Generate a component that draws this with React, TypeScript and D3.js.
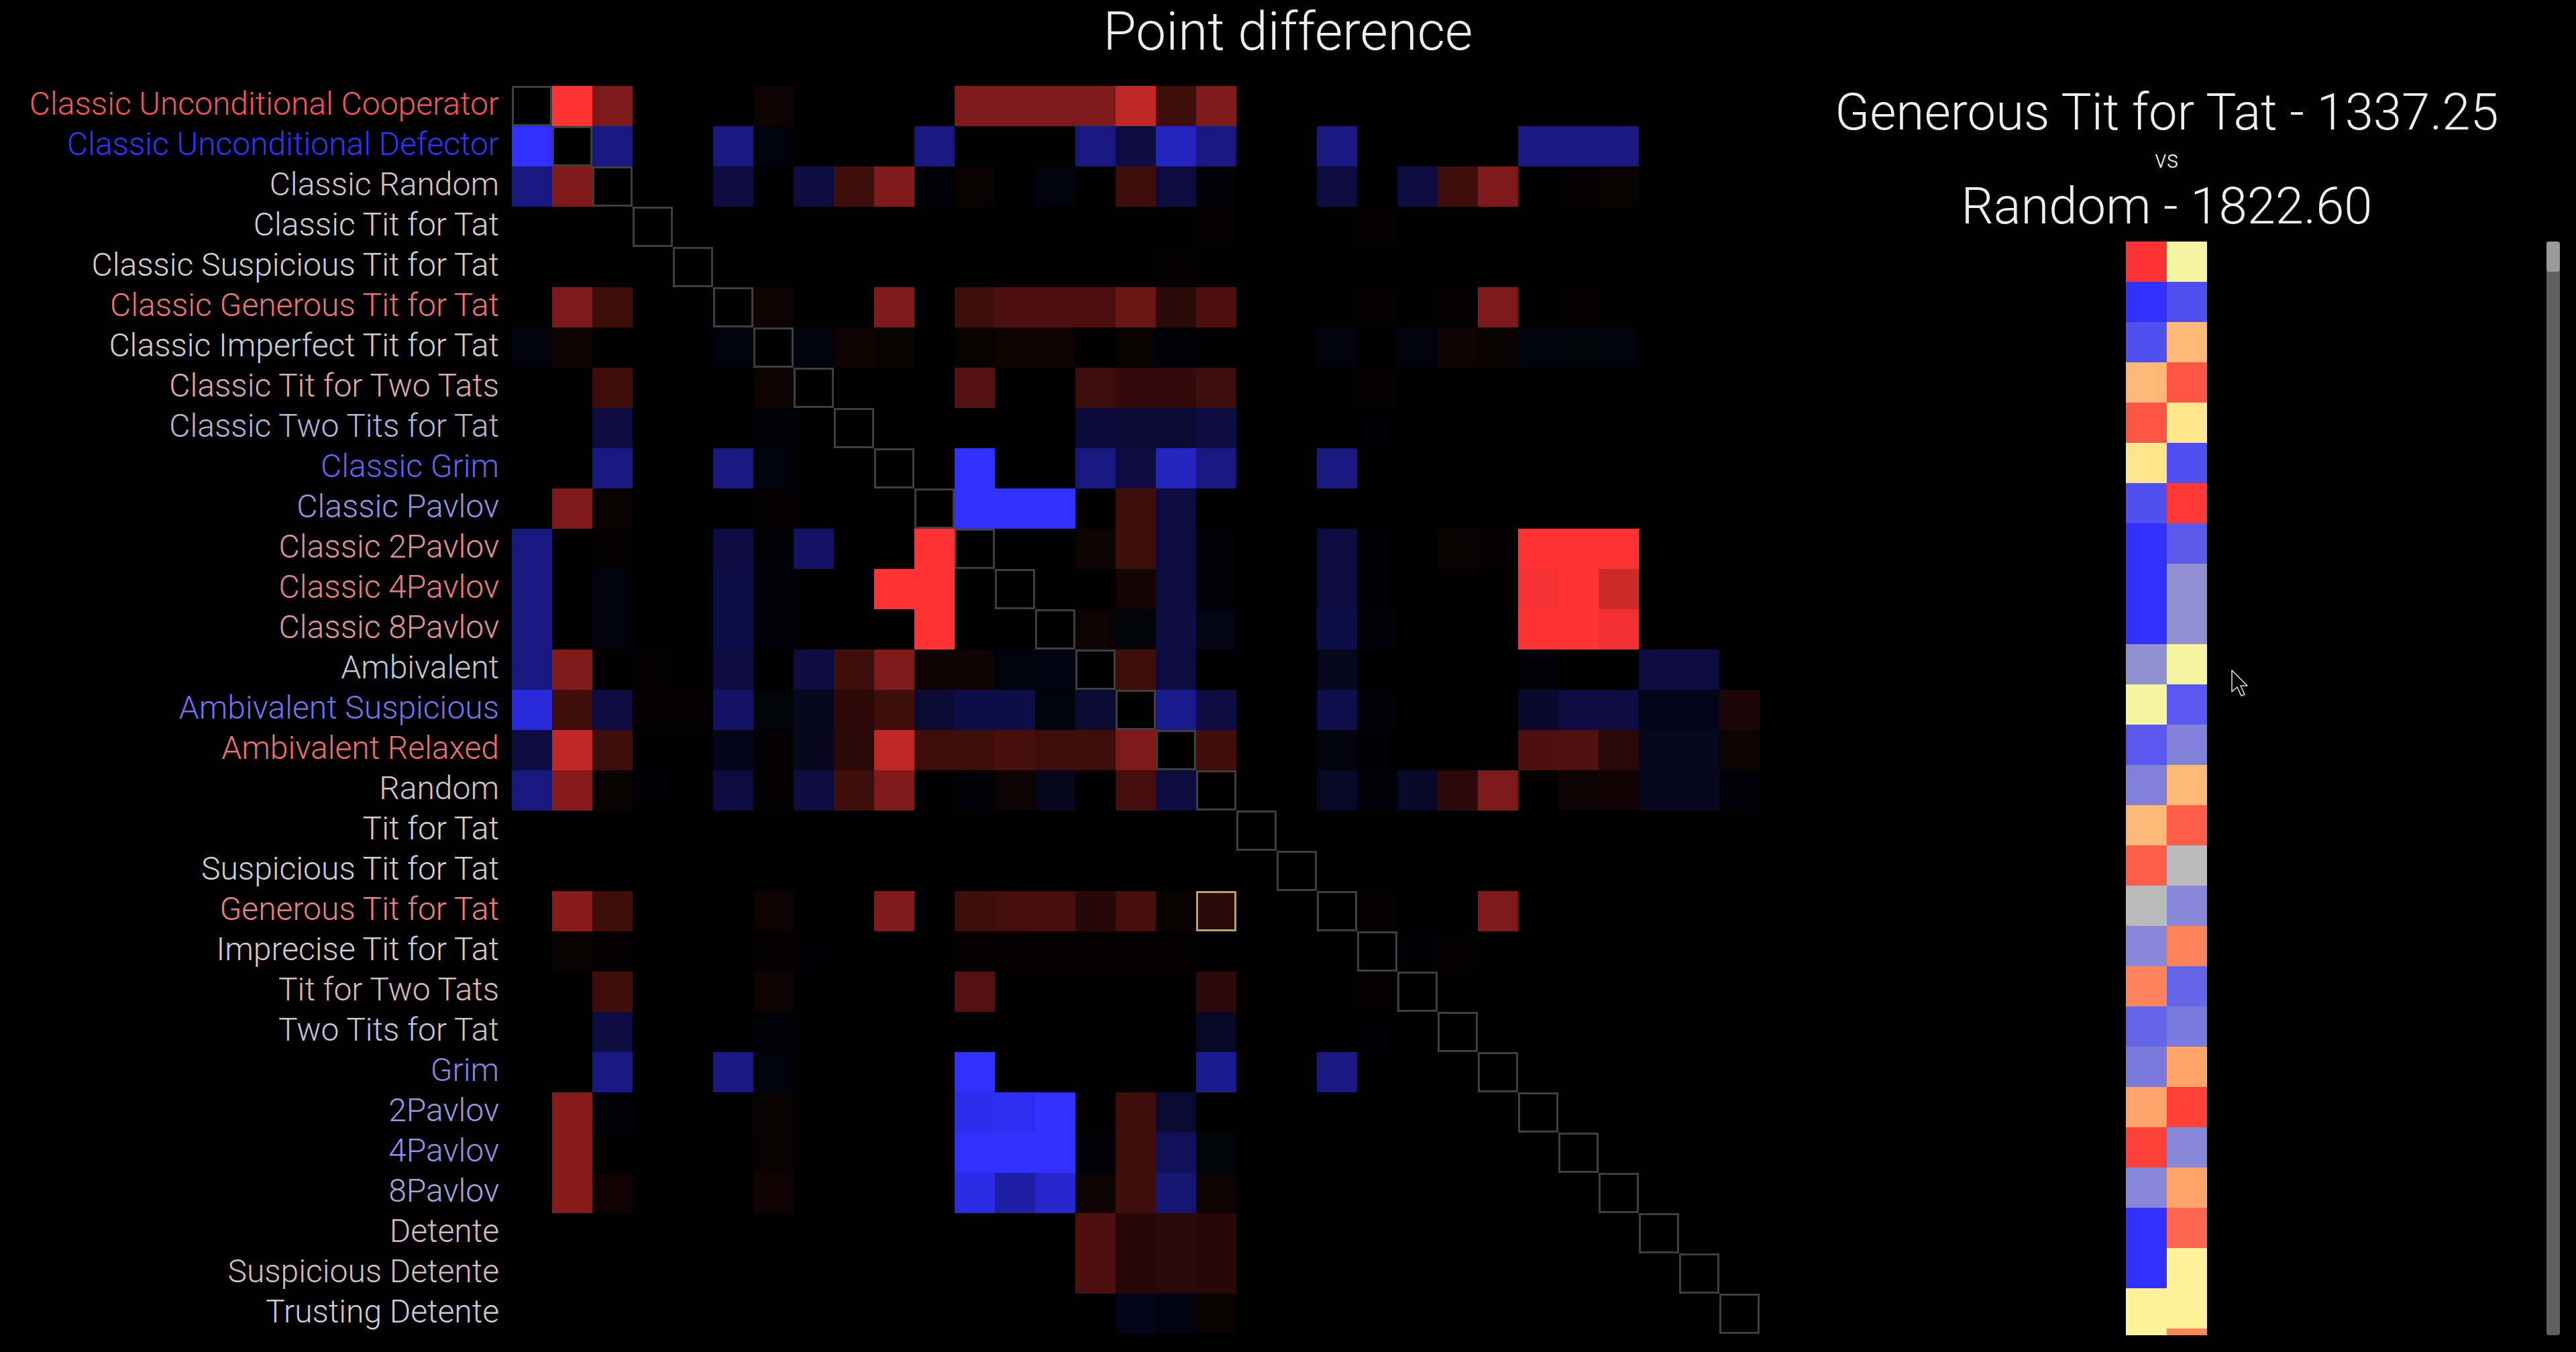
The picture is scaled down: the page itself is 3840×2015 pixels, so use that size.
import { useEffect, useRef } from 'react'
import * as d3 from 'd3'

const W = 3840
const H = 2015

const strategies = [
  'Classic Unconditional Cooperator',
  'Classic Unconditional Defector',
  'Classic Random',
  'Classic Tit for Tat',
  'Classic Suspicious Tit for Tat',
  'Classic Generous Tit for Tat',
  'Classic Imperfect Tit for Tat',
  'Classic Tit for Two Tats',
  'Classic Two Tits for Tat',
  'Classic Grim',
  'Classic Pavlov',
  'Classic 2Pavlov',
  'Classic 4Pavlov',
  'Classic 8Pavlov',
  'Ambivalent',
  'Ambivalent Suspicious',
  'Ambivalent Relaxed',
  'Random',
  'Tit for Tat',
  'Suspicious Tit for Tat',
  'Generous Tit for Tat',
  'Imprecise Tit for Tat',
  'Tit for Two Tats',
  'Two Tits for Tat',
  'Grim',
  '2Pavlov',
  '4Pavlov',
  '8Pavlov',
  'Detente',
  'Suspicious Detente',
  'Trusting Detente',
]

// point difference of row vs column, as a fraction of the largest difference
const pointDiff: number[][] = [
  [0, 1, .5, 0, 0, 0, .05, 0, 0, 0, 0, .5, .5, .5, .5, .75, .25, .5, 0, 0, 0, 0, 0, 0, 0, 0, 0, 0, 0, 0, 0],
  [-1, 0, -.5, 0, 0, -.5, -.05, 0, 0, 0, -.5, 0, 0, 0, -.5, -.25, -.75, -.5, 0, 0, -.5, 0, 0, 0, 0, -.5, -.5, -.5, 0, 0, 0],
  [-.5, .5, 0, 0, 0, -.25, 0, -.25, .25, .5, -.03, .03, 0, -.05, 0, .25, -.25, -.03, 0, 0, -.25, 0, -.25, .25, .5, 0, .01, .03, 0, 0, 0],
  [0, 0, 0, 0, 0, 0, 0, 0, 0, 0, 0, 0, 0, 0, 0, 0, 0, .01, 0, 0, 0, .01, 0, 0, 0, 0, 0, 0, 0, 0, 0],
  [0, 0, 0, 0, 0, 0, 0, 0, 0, 0, 0, 0, 0, 0, 0, 0, .01, 0, 0, 0, 0, 0, 0, 0, 0, 0, 0, 0, 0, 0, 0],
  [0, .5, .25, 0, 0, 0, .05, 0, 0, .5, 0, .25, .3, .3, .3, .42, .17, .3, 0, 0, 0, .01, 0, .01, .5, 0, .01, 0, 0, 0, 0],
  [-.05, .05, 0, 0, 0, -.05, 0, -.05, .05, .03, 0, .04, .05, .05, 0, .03, -.03, 0, 0, 0, -.05, 0, -.05, .05, .03, -.05, -.04, -.05, 0, 0, 0],
  [0, 0, .25, 0, 0, 0, .05, 0, 0, 0, 0, .33, 0, 0, .24, .2, .2, .24, 0, 0, 0, .01, 0, 0, 0, 0, 0, 0, 0, 0, 0],
  [0, 0, -.25, 0, 0, 0, -.03, 0, 0, 0, 0, 0, 0, 0, -.23, -.2, -.2, -.25, 0, 0, 0, -.01, 0, 0, 0, 0, 0, 0, 0, 0, 0],
  [0, 0, -.5, 0, 0, -.5, -.05, 0, 0, 0, 0, -1, 0, 0, -.5, -.25, -.75, -.5, 0, 0, -.5, 0, 0, 0, 0, 0, 0, 0, 0, 0, 0],
  [0, .5, .04, 0, 0, 0, .01, 0, 0, 0, 0, -1, -1, -1, 0, .25, -.25, 0, 0, 0, 0, 0, 0, 0, 0, 0, 0, 0, 0, 0, 0],
  [-.5, 0, .01, 0, 0, -.25, -.03, -.4, 0, 0, 1, 0, 0, 0, .05, .25, -.25, -.03, 0, 0, -.25, -.02, 0, .03, .01, 1, 1, 1, 0, 0, 0],
  [-.5, 0, -.05, 0, 0, -.28, -.03, 0, 0, 1, 1, 0, 0, 0, 0, .08, -.25, -.03, 0, 0, -.25, -.02, 0, 0, 0, .96, 1, .8, 0, 0, 0],
  [-.5, 0, -.05, 0, 0, -.28, -.03, 0, 0, 0, 1, 0, 0, 0, .05, -.04, -.25, -.08, 0, 0, -.28, -.03, 0, 0, 0, 1, 1, .95, 0, 0, 0],
  [-.5, .5, 0, .01, 0, -.25, 0, -.25, .25, .5, .05, .05, -.05, -.07, 0, .25, -.25, 0, 0, 0, -.12, 0, 0, 0, 0, -.03, 0, 0, -.25, -.25, 0],
  [-.85, .25, -.25, .01, .01, -.4, -.04, -.12, .18, .25, -.2, -.28, -.28, -.05, -.2, 0, -.55, -.25, 0, 0, -.3, -.03, 0, 0, 0, -.18, -.25, -.25, -.1, -.1, .12],
  [-.25, .75, .25, 0, 0, -.1, .01, -.12, .16, .75, .25, .25, .28, .25, .25, .5, 0, .26, 0, 0, -.05, -.02, 0, 0, 0, .3, .31, .16, -.12, -.12, .05],
  [-.5, .52, .03, -.02, 0, -.25, .02, -.25, .25, .5, 0, -.03, .05, -.12, 0, .27, -.25, 0, 0, 0, -.15, -.03, -.17, .18, .5, 0, .05, .07, -.12, -.12, -.03],
  [0, 0, 0, 0, 0, 0, 0, 0, 0, 0, 0, 0, 0, 0, 0, 0, 0, 0, 0, 0, 0, 0, 0, 0, 0, 0, 0, 0, 0, 0, 0],
  [0, 0, 0, 0, 0, 0, 0, 0, 0, 0, 0, 0, 0, 0, 0, 0, 0, 0, 0, 0, 0, 0, 0, 0, 0, 0, 0, 0, 0, 0, 0],
  [0, .52, .25, 0, 0, 0, .05, 0, 0, .5, 0, .25, .27, .28, .15, .28, .04, .16, 0, 0, 0, .01, 0, 0, .5, 0, 0, 0, 0, 0, 0],
  [0, .03, .01, 0, 0, 0, .01, -.01, 0, 0, 0, .02, .02, .02, .02, .02, .01, 0, 0, 0, 0, 0, -.02, .01, 0, 0, 0, 0, 0, 0, 0],
  [0, 0, .25, 0, 0, 0, .05, 0, 0, 0, 0, .33, 0, 0, 0, 0, 0, .18, 0, 0, 0, .01, 0, 0, 0, 0, 0, 0, 0, 0, 0],
  [0, 0, -.25, 0, 0, 0, -.03, 0, 0, 0, 0, 0, 0, 0, 0, 0, 0, -.15, 0, 0, 0, -.01, 0, 0, 0, 0, 0, 0, 0, 0, 0],
  [0, 0, -.5, 0, 0, -.5, -.05, 0, 0, 0, 0, -1, 0, 0, 0, 0, 0, -.55, 0, 0, -.5, 0, 0, 0, 0, 0, 0, 0, 0, 0, 0],
  [0, .52, -.03, 0, 0, 0, .03, 0, 0, 0, 0, -.93, -.95, -1, 0, .25, -.2, 0, 0, 0, 0, 0, 0, 0, 0, 0, 0, 0, 0, 0, 0],
  [0, .52, 0, 0, 0, 0, .04, 0, 0, 0, 0, -1, -1, -1, -.03, .25, -.35, -.04, 0, 0, 0, 0, 0, 0, 0, 0, 0, 0, 0, 0, 0],
  [0, .52, .06, 0, 0, 0, .06, 0, 0, 0, 0, -.9, -.65, -.8, .05, .25, -.45, .05, 0, 0, 0, 0, 0, 0, 0, 0, 0, 0, 0, 0, 0],
  [0, 0, 0, 0, 0, 0, 0, 0, 0, 0, 0, 0, 0, 0, .3, .15, .17, .15, 0, 0, 0, 0, 0, 0, 0, 0, 0, 0, 0, 0, 0],
  [0, 0, 0, 0, 0, 0, 0, 0, 0, 0, 0, 0, 0, 0, .3, .15, .17, .15, 0, 0, 0, 0, 0, 0, 0, 0, 0, 0, 0, 0, 0],
  [0, 0, 0, 0, 0, 0, 0, 0, 0, 0, 0, 0, 0, 0, 0, -.1, -.06, .04, 0, 0, 0, 0, 0, 0, 0, 0, 0, 0, 0, 0, 0],
]

// the selected match
const selectedRow = 20
const selectedCol = 17
const playerA = 'Generous Tit for Tat'
const scoreA = 1337.25
const playerB = 'Random'
const scoreB = 1822.6

// per-round colours of the selected match (visible part of the scroll list)
const roundsA = ['#ff3333', '#3030ff', '#5050ee', '#ffb877', '#ff5544', '#fde68e', '#5050ee', '#3030ff', '#3030ff', '#3030ff',
  '#9090d0', '#f5f5a0', '#5858ee', '#8080d8', '#ffb877', '#ff5e4a', '#bbbbbb', '#8888d8', '#ff845c', '#6565e8',
  '#7a7add', '#ffa56c', '#ff4038', '#8888d8', '#3030ff', '#3030ff', '#fff299', '#fff299']
const roundsB = ['#f5f5a0', '#5050ee', '#ffb877', '#ff5544', '#fde68e', '#5050ee', '#ff3838', '#5a5ae8', '#9090d0', '#9090d0',
  '#f5f5a0', '#5858ee', '#8080d8', '#ffb877', '#ff5e4a', '#bbbbbb', '#8888d8', '#ff845c', '#6565e8', '#7a7add',
  '#ffa56c', '#ff4038', '#8888d8', '#ffa56c', '#ff6650', '#fff299', '#fff299', '#ff845c']

const FONT = "Roboto, 'Noto Sans', sans-serif"

export default function App() {
  const svgRef = useRef<SVGSVGElement>(null)

  useEffect(() => {
    if (!svgRef.current) return
    document.body.style.margin = '0'
    document.body.style.background = '#000'

    const svg = d3.select(svgRef.current)
    svg.selectAll('*').remove()
    svg.attr('width', W).attr('height', H).attr('viewBox', `0 0 ${W} ${H}`)

    svg.append('rect').attr('width', W).attr('height', H).attr('fill', '#000')

    const n = strategies.length
    const cell = 60
    const idx = d3.range(n)
    const x = d3.scaleBand<number>().domain(idx).range([763, 763 + cell * n])
    const y = d3.scaleBand<number>().domain(idx).range([128, 128 + cell * n])

    const pos = d3.interpolateRgb('#000000', '#ff3333')
    const neg = d3.interpolateRgb('#000000', '#3030ff')
    const cellColor = (v: number) => (v >= 0 ? pos(Math.min(1, v)) : neg(Math.min(1, -v)))

    // Title
    svg.append('text')
      .attr('x', W / 2).attr('y', 74)
      .attr('text-anchor', 'middle')
      .style('font-family', FONT).style('font-weight', 300)
      .style('font-size', '80px').style('fill', '#eeeeee')
      .text('Point difference')

    // Cells
    const cells = pointDiff.flatMap((row, r) => row.map((v, c) => ({ r, c, v })))
    svg.append('g')
      .selectAll('rect')
      .data(cells)
      .join('rect')
      .attr('x', d => x(d.c)!)
      .attr('y', d => y(d.r)!)
      .attr('width', x.bandwidth())
      .attr('height', y.bandwidth())
      .attr('fill', d => cellColor(d.v))
      .attr('shape-rendering', 'crispEdges')

    // Diagonal (self play) boxes
    svg.append('g')
      .selectAll('rect')
      .data(idx)
      .join('rect')
      .attr('x', d => x(d)! + 1.5)
      .attr('y', d => y(d)! + 1.5)
      .attr('width', x.bandwidth() - 3)
      .attr('height', y.bandwidth() - 3)
      .attr('fill', '#000')
      .attr('stroke', '#3f3f3f')
      .attr('stroke-width', 3)

    // Selected match
    svg.append('rect')
      .attr('x', x(selectedCol)! + 1.5)
      .attr('y', y(selectedRow)! + 1.5)
      .attr('width', x.bandwidth() - 3)
      .attr('height', y.bandwidth() - 3)
      .attr('fill', 'none')
      .attr('stroke', '#b5a468')
      .attr('stroke-width', 3)

    // Row labels coloured by total difference
    const sums = pointDiff.map(r => d3.sum(r))
    const m = d3.max(sums, s => Math.abs(s)) ?? 1
    const labelColor = d3.scaleLinear<string>()
      .domain([-m, 0, m])
      .range(['#3333ff', '#d0d0d0', '#ff3333'])

    svg.append('g')
      .selectAll('text')
      .data(strategies)
      .join('text')
      .attr('x', 744)
      .attr('y', (_, i) => y(i)! + y.bandwidth() / 2)
      .attr('dy', '0.27em')
      .attr('text-anchor', 'end')
      .style('font-family', FONT).style('font-weight', 300)
      .style('font-size', '48px')
      .style('fill', (_, i) => labelColor(sums[i]))
      .text(d => d)

    // Match header
    const fmt = d3.format('.2f')
    const cx = 3230
    svg.append('text')
      .attr('x', cx).attr('y', 193)
      .attr('text-anchor', 'middle')
      .style('font-family', FONT).style('font-weight', 300)
      .style('font-size', '76px').style('fill', '#eeeeee')
      .text(`${playerA} - ${fmt(scoreA)}`)
    svg.append('text')
      .attr('x', cx).attr('y', 250)
      .attr('text-anchor', 'middle')
      .style('font-family', FONT).style('font-weight', 300)
      .style('font-size', '36px').style('fill', '#eeeeee')
      .text('vs')
    svg.append('text')
      .attr('x', cx).attr('y', 333)
      .attr('text-anchor', 'middle')
      .style('font-family', FONT).style('font-weight', 300)
      .style('font-size', '76px').style('fill', '#eeeeee')
      .text(`${playerB} - ${fmt(scoreB)}`)

    // Rounds list (scrolled view)
    const listTop = 360
    const listBottom = 1990
    svg.append('clipPath').attr('id', 'rounds-clip')
      .append('rect').attr('x', 3100).attr('y', listTop).attr('width', 740).attr('height', listBottom - listTop)

    const rx = d3.scaleBand<string>().domain(['a', 'b']).range([3169, 3290])
    const ry = d3.scaleBand<number>().domain(d3.range(roundsA.length)).range([listTop, listTop + cell * roundsA.length])
    const rounds = roundsA.flatMap((a, i) => [{ k: 'a', i, c: a }, { k: 'b', i, c: roundsB[i] }])

    svg.append('g')
      .attr('clip-path', 'url(#rounds-clip)')
      .selectAll('rect')
      .data(rounds)
      .join('rect')
      .attr('x', d => rx(d.k)!)
      .attr('y', d => ry(d.i)!)
      .attr('width', rx.bandwidth())
      .attr('height', ry.bandwidth())
      .attr('fill', d => d.c)
      .attr('shape-rendering', 'crispEdges')

    // Scrollbar
    svg.append('rect')
      .attr('x', 3796).attr('y', listTop).attr('width', 20).attr('height', listBottom - listTop)
      .attr('rx', 4).attr('fill', '#5f5f5f')
    svg.append('rect')
      .attr('x', 3796).attr('y', listTop).attr('width', 20).attr('height', 45)
      .attr('rx', 4).attr('fill', '#9a9a9a')

    // Mouse pointer
    svg.append('path')
      .attr('transform', 'translate(3327,999) scale(2)')
      .attr('d', 'M0,0 L0,16 L4,12.5 L7,19 L9.5,18 L6.5,11.5 L11.5,11.5 Z')
      .attr('fill', '#000')
      .attr('stroke', '#ddd')
      .attr('stroke-width', 0.8)
      .attr('stroke-linejoin', 'round')
  }, [])

  return <svg ref={svgRef} style={{ display: 'block' }} />
}
